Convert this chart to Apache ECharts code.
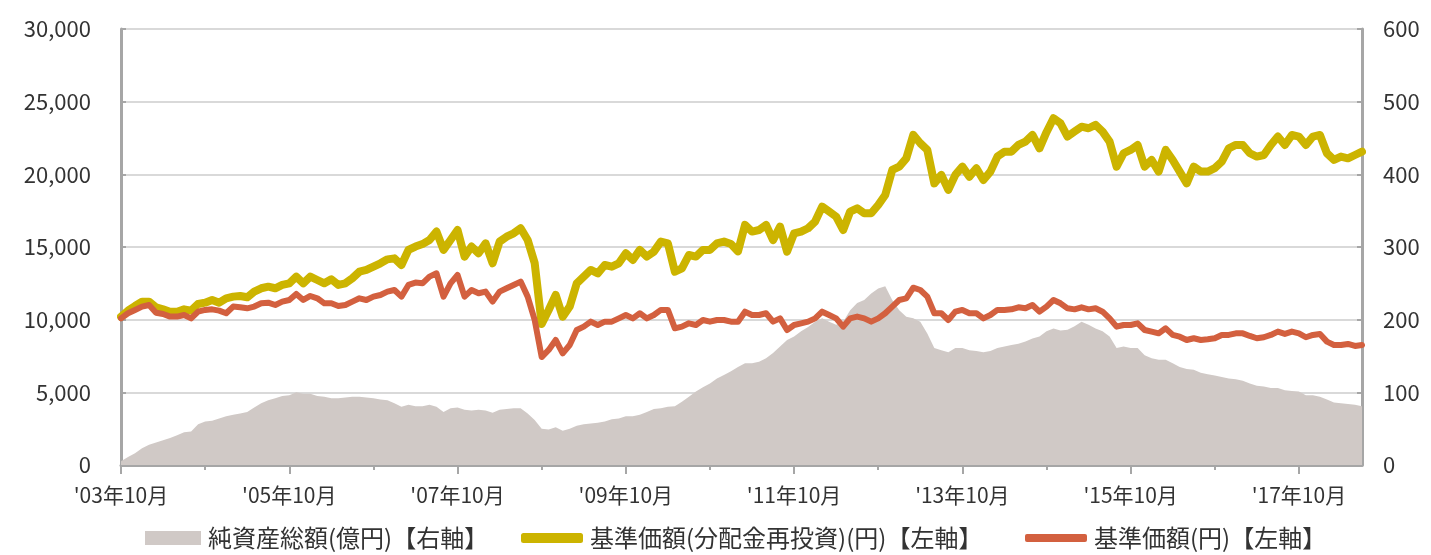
<!DOCTYPE html>
<html>
<head>
<meta charset="utf-8">
<script src="https://cdn.jsdelivr.net/npm/echarts@6/dist/echarts.min.js"></script>
<style>
html,body{margin:0;padding:0;background:#fff;}
#chart{width:1431px;height:555px;}
</style>
</head>
<body>
<div id="chart"></div>
<script>
// Monthly observations, Oct 2003 .. Jul 2018
const startYear = 2003, startMonth = 10, monthCount = 178;

const xTickLabels = ["'03年10月", "'05年10月", "'07年10月", "'09年10月", "'11年10月", "'13年10月", "'15年10月", "'17年10月"];
const leftTicks = [0, 5000, 10000, 15000, 20000, 25000, 30000];
const rightTicks = [0, 100, 200, 300, 400, 500, 600];

const seriesNames = ['純資産総額(億円)【右軸】', '基準価額(分配金再投資)(円)【左軸】', '基準価額(円)【左軸】'];

// 純資産総額 (億円) – right axis
const netAssets = [
  5, 11, 16, 23, 28, 31, 34, 37, 41, 45,
  46, 56, 60, 61, 64, 67, 69, 71, 73, 79,
  85, 89, 92, 95, 96, 100, 98, 98, 95, 94,
  92, 92, 93, 94, 94, 93, 92, 90, 89, 85,
  80, 83, 81, 81, 83, 80, 73, 78, 79, 76,
  75, 76, 75, 72, 76, 77, 78, 78, 71, 62,
  50, 49, 52, 47, 50, 54, 56, 57, 58, 60,
  63, 64, 67, 67, 69, 73, 77, 78, 80, 81,
  87, 94, 101, 107, 112, 119, 124, 129, 135, 140,
  140, 142, 147, 154, 163, 172, 177, 184, 190, 197,
  202, 197, 193, 197, 213, 223, 227, 236, 243, 246,
  227, 213, 204, 202, 197, 181, 161, 158, 155, 161,
  161, 158, 157, 155, 157, 161, 163, 165, 167, 170,
  174, 177, 184, 188, 185, 186, 191, 197, 193, 188,
  184, 177, 161, 163, 161, 161, 151, 147, 145, 145,
  140, 135, 132, 131, 127, 125, 123, 121, 119, 118,
  116, 112, 109, 108, 106, 106, 103, 102, 101, 96,
  96, 94, 90, 86, 85, 84, 83, 81
];

// 基準価額(分配金再投資) (円) – left axis
const navReinvested = [
  10200, 10620, 10940, 11240, 11240, 10850, 10710, 10550, 10550, 10710,
  10620, 11080, 11170, 11355, 11170, 11470, 11585, 11630, 11540, 11930,
  12160, 12270, 12160, 12390, 12500, 12960, 12500, 12960, 12730, 12500,
  12780, 12390, 12500, 12850, 13300, 13420, 13650, 13880, 14150, 14220,
  13760, 14800, 15030, 15200, 15480, 16060, 14800, 15480, 16170, 14340,
  15030, 14570, 15250, 13880, 15370, 15710, 15940, 16290, 15480, 13900,
  9700, 10670, 11700, 10200, 10900, 12500, 12960, 13420, 13190, 13760,
  13650, 13880, 14570, 14110, 14800, 14340, 14680, 15370, 15250, 13300,
  13530, 14450, 14340, 14800, 14800, 15250, 15370, 15200, 14700, 16520,
  16060, 16170, 16520, 15480, 16400, 14680, 15940, 16060, 16290, 16750,
  17780, 17440, 17090, 16170, 17440, 17660, 17320, 17320, 17890, 18580,
  20300, 20530, 21100, 22710, 22140, 21680, 19380, 19960, 18930, 19960,
  20530, 19840, 20420, 19610, 20190, 21220, 21560, 21560, 22020, 22250,
  22710, 21790, 22900, 23860, 23510, 22600, 22940, 23280, 23170, 23400,
  22940, 22250, 20530, 21450, 21680, 22020, 20530, 20990, 20190, 21680,
  20990, 20190, 19380, 20530, 20190, 20190, 20420, 20880, 21790, 22020,
  22020, 21450, 21220, 21330, 22020, 22600, 22020, 22710, 22600, 22020,
  22600, 22710, 21450, 20990, 21220, 21100, 21330, 21560
];

// 基準価額 (円) – left axis
const nav = [
  10090, 10440, 10670, 10900, 11010, 10480, 10390, 10210, 10210, 10320,
  10090, 10550, 10670, 10710, 10620, 10440, 10900, 10850, 10780, 10900,
  11125, 11170, 11010, 11240, 11355, 11770, 11355, 11630, 11470, 11125,
  11125, 10940, 11010, 11240, 11470, 11355, 11585, 11700, 11930, 12040,
  11585, 12390, 12550, 12500, 12960, 13190, 11585, 12500, 13070, 11585,
  12040, 11815, 11930, 11240, 11930, 12160, 12390, 12620, 11585, 9980,
  7430, 7915, 8600, 7685, 8260, 9290, 9520, 9865, 9635, 9865,
  9865, 10090, 10320, 10090, 10440, 10090, 10320, 10670, 10670, 9405,
  9520, 9750, 9635, 9980, 9865, 9980, 9980, 9865, 9860, 10550,
  10320, 10320, 10440, 9865, 10090, 9290, 9635, 9750, 9865, 10090,
  10550, 10320, 10090, 9520, 10090, 10210, 10090, 9865, 10090, 10440,
  10900, 11355, 11470, 12200, 12040, 11585, 10440, 10440, 9980, 10550,
  10670, 10440, 10440, 10090, 10320, 10670, 10670, 10710, 10850, 10780,
  11010, 10550, 10900, 11355, 11125, 10780, 10710, 10850, 10710, 10780,
  10550, 10090, 9520, 9635, 9635, 9750, 9290, 9180, 9060, 9405,
  8950, 8830, 8600, 8720, 8600, 8650, 8720, 8950, 8950, 9060,
  9060, 8880, 8720, 8790, 8950, 9180, 9020, 9180, 9060, 8790,
  8950, 9020, 8490, 8260, 8260, 8330, 8190, 8260
];

const months = [];
for (let i = 0; i < monthCount; i++) {
  const t = (startMonth - 1) + i;
  const y = startYear + Math.floor(t / 12);
  const m = (t % 12) + 1;
  months.push(y + '/' + (m < 10 ? '0' + m : m));
}

const FONT = '"Noto Sans CJK JP", "Noto Sans", sans-serif';
const TEXT = '#333333';
const AXIS = '#A6A6A6';
const GRID = '#D9D9D9';
const C_AREA = '#D0C9C6';
const C_YEL = '#CCB400';
const C_RED = '#D3603F';

const chart = echarts.init(document.getElementById('chart'), null, {renderer: 'canvas'});

const legendBase = {
  bottom: 0,
  orient: 'horizontal',
  itemGap: 0,
  textStyle: {fontFamily: FONT, fontSize: 24, color: TEXT, padding: [0, 0, 0, 2]},
  selectedMode: false
};

chart.setOption({
  animation: false,
  backgroundColor: '#ffffff',
  textStyle: {fontFamily: FONT},
  grid: {left: 121, right: 69, top: 29, bottom: 90, containLabel: false},
  legend: [
    Object.assign({}, legendBase, {left: 140, data: [{name: seriesNames[0], icon: 'rect', itemStyle: {color: C_AREA}}], itemWidth: 56, itemHeight: 14}),
    Object.assign({}, legendBase, {left: 516, data: [{name: seriesNames[1], icon: 'roundRect', itemStyle: {color: C_YEL}}], itemWidth: 62, itemHeight: 10}),
    Object.assign({}, legendBase, {left: 1020, data: [{name: seriesNames[2], icon: 'roundRect', itemStyle: {color: C_RED}}], itemWidth: 62, itemHeight: 8})
  ],
  xAxis: [
    {
      type: 'category',
      position: 'bottom',
      data: months,
      boundaryGap: false,
      axisLine: {show: true, lineStyle: {color: AXIS, width: 3}},
      axisTick: {show: true, interval: 11, length: 5, lineStyle: {color: AXIS, width: 2}},
      axisLabel: {
        interval: 23,
        margin: 20,
        fontFamily: FONT,
        fontSize: 21,
        color: TEXT,
        formatter: function (v, idx) { return xTickLabels[Math.round(idx / 24)] || ''; }
      },
      splitLine: {show: false}
    },
    {
      type: 'category',
      position: 'bottom',
      data: months,
      boundaryGap: false,
      axisLine: {show: false},
      axisTick: {show: true, interval: 23, length: 9, lineStyle: {color: AXIS, width: 2}},
      axisLabel: {show: false},
      splitLine: {show: false}
    }
  ],
  yAxis: [
    {
      type: 'value',
      position: 'left',
      min: leftTicks[0],
      max: leftTicks[leftTicks.length - 1],
      interval: leftTicks[1] - leftTicks[0],
      axisLine: {show: true, lineStyle: {color: AXIS, width: 3}},
      axisTick: {show: true, inside: true, length: 5, lineStyle: {color: AXIS, width: 2}},
      axisLabel: {
        margin: 30,
        fontFamily: FONT,
        fontSize: 22,
        color: TEXT,
        formatter: function (v) { return v.toLocaleString('en-US'); }
      },
      splitLine: {show: true, lineStyle: {color: GRID, width: 2}}
    },
    {
      type: 'value',
      position: 'right',
      min: rightTicks[0],
      max: rightTicks[rightTicks.length - 1],
      interval: rightTicks[1] - rightTicks[0],
      axisLine: {show: true, lineStyle: {color: AXIS, width: 3}},
      axisTick: {show: true, inside: true, length: 5, lineStyle: {color: AXIS, width: 2}},
      axisLabel: {
        margin: 21,
        fontFamily: FONT,
        fontSize: 22,
        color: TEXT
      },
      splitLine: {show: false}
    }
  ],
  series: [
    {
      name: seriesNames[0],
      type: 'line',
      yAxisIndex: 1,
      xAxisIndex: 0,
      data: netAssets,
      symbol: 'none',
      lineStyle: {width: 0, color: C_AREA},
      itemStyle: {color: C_AREA},
      areaStyle: {color: C_AREA, opacity: 1},
      z: 1
    },
    {
      name: seriesNames[1],
      type: 'line',
      yAxisIndex: 0,
      xAxisIndex: 0,
      data: navReinvested,
      symbol: 'none',
      lineStyle: {width: 8, color: C_YEL, cap: 'round', join: 'round'},
      itemStyle: {color: C_YEL},
      z: 3
    },
    {
      name: seriesNames[2],
      type: 'line',
      yAxisIndex: 0,
      xAxisIndex: 0,
      data: nav,
      symbol: 'none',
      lineStyle: {width: 6, color: C_RED, cap: 'round', join: 'round'},
      itemStyle: {color: C_RED},
      z: 4
    }
  ]
});
</script>
</body>
</html>
